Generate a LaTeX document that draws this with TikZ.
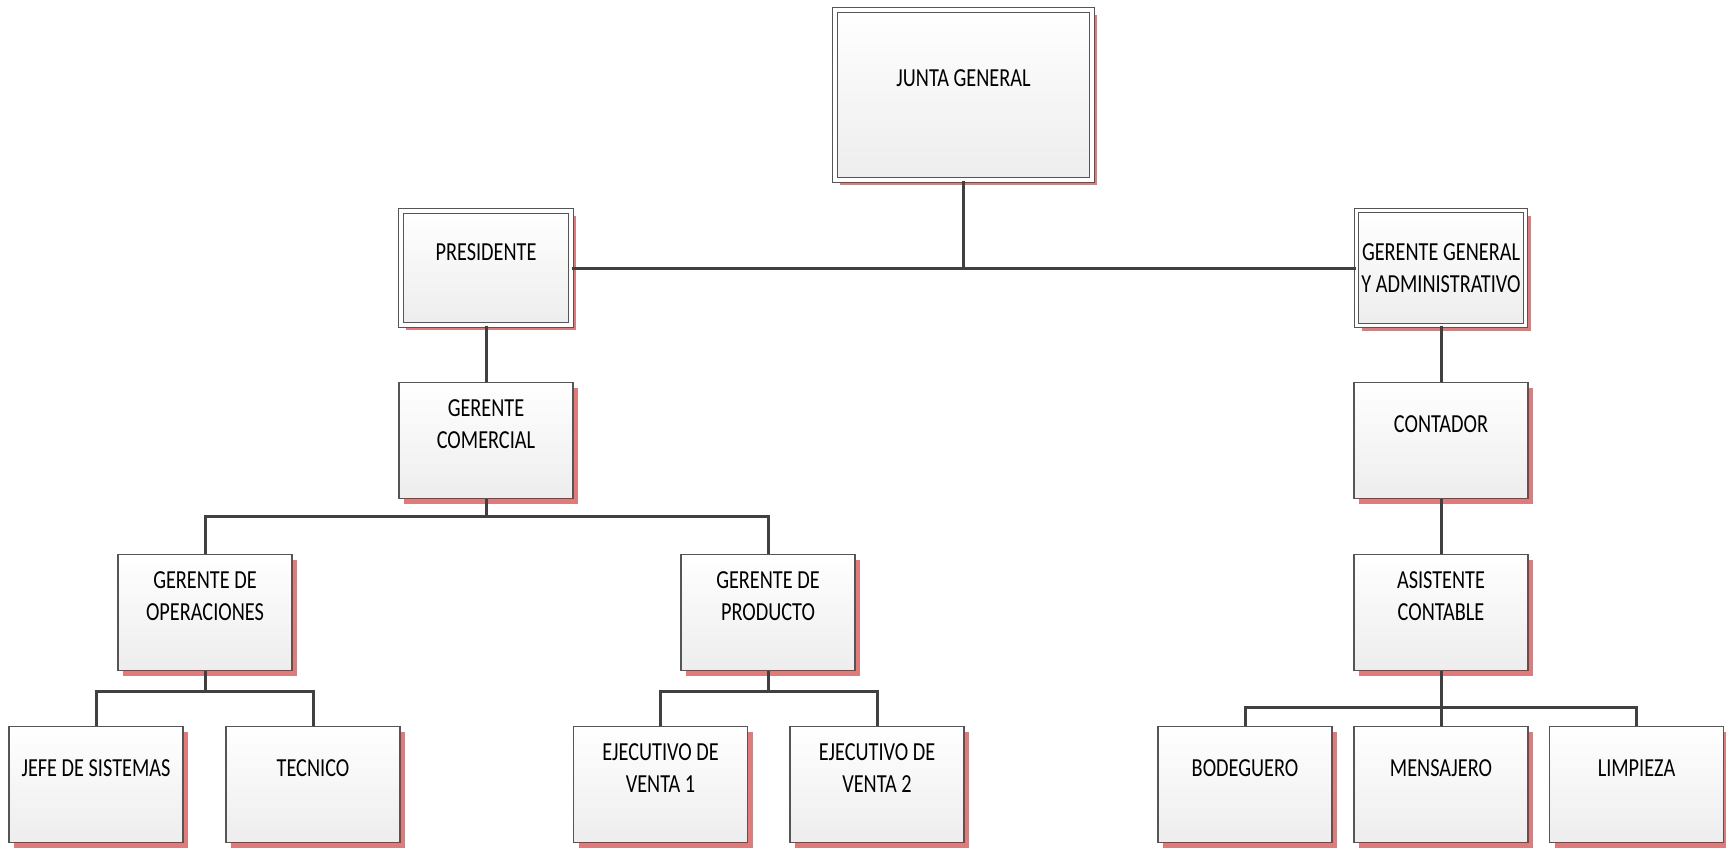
\documentclass[tikz,border=0pt]{standalone}
\usepackage{fontspec}
\setmainfont[FakeStretch=0.78]{Carlito}
\usetikzlibrary{shadows}
\definecolor{shad}{HTML}{E07B7B}
\definecolor{bord}{HTML}{555555}
\definecolor{connc}{HTML}{404040}
\definecolor{botfill}{HTML}{EDEDED}
\tikzset{
  box/.style={draw=bord, line width=1.2pt, top color=white, bottom color=botfill,
    minimum width=174pt, minimum height=116pt, inner sep=0pt,
    general shadow={shadow xshift=5pt, shadow yshift=-5pt, fill=shad}},
  dbox/.style={box, double=white, double distance=3.5pt, line width=1.2pt},
  txt/.style={font=\fontsize{26pt}{32pt}\selectfont, align=center, inner sep=0pt, text=black},
  conn/.style={draw=connc, line width=3pt},
}
\begin{document}
\begin{tikzpicture}[x=1pt, y=-1pt]
\useasboundingbox (0,0) rectangle (1726,847);
% top
\node[dbox, minimum width=257pt, minimum height=170pt] (junta) at (963.5,95) {};
\node[txt] (tjunta) at ([yshift=17pt]junta.center) {JUNTA GENERAL};
\node[dbox, minimum width=170pt, minimum height=114pt] (pres) at (486,268) {};
\node[txt] (tpres) at ([yshift=16pt]pres.center) {PRESIDENTE};
\node[dbox, minimum width=169pt, minimum height=115pt] (gg) at (1441,268) {};
\node[txt] (tgg) at (gg.center) {GERENTE GENERAL\\Y ADMINISTRATIVO};
% second level
\node[box] (gc) at (486,440.5) {};
\node[txt] (tgc) at ([yshift=16pt]gc.center) {GERENTE\\COMERCIAL};
\node[box] (cont) at (1441,440.5) {};
\node[txt] (tcont) at ([yshift=16pt]cont.center) {CONTADOR};
% third level
\node[box] (gdo) at (205,612.5) {};
\node[txt] (tgdo) at ([yshift=16pt]gdo.center) {GERENTE DE\\OPERACIONES};
\node[box] (gdp) at (768,612.5) {};
\node[txt] (tgdp) at ([yshift=16pt]gdp.center) {GERENTE DE\\PRODUCTO};
\node[box] (asis) at (1441,612.5) {};
\node[txt] (tasis) at ([yshift=16pt]asis.center) {ASISTENTE\\CONTABLE};
% bottom row
\node[box] (jefe) at (96,784.5) {};
\node[txt] (tjefe) at ([yshift=16pt]jefe.center) {JEFE DE SISTEMAS};
\node[box] (tec) at (313,784.5) {};
\node[txt] (ttec) at ([yshift=16pt]tec.center) {TECNICO};
\node[box] (ej1) at (660.5,784.5) {};
\node[txt] (tej1) at ([yshift=16pt]ej1.center) {EJECUTIVO DE\\VENTA 1};
\node[box] (ej2) at (877,784.5) {};
\node[txt] (tej2) at ([yshift=16pt]ej2.center) {EJECUTIVO DE\\VENTA 2};
\node[box] (bod) at (1245,784.5) {};
\node[txt] (tbod) at ([yshift=16pt]bod.center) {BODEGUERO};
\node[box] (mens) at (1441,784.5) {};
\node[txt] (tmens) at ([yshift=16pt]mens.center) {MENSAJERO};
\node[box] (limp) at (1636.5,784.5) {};
\node[txt] (tlimp) at ([yshift=16pt]limp.center) {LIMPIEZA};
% connectors
\coordinate (cj) at (963.5,268);
\coordinate (cgc) at (486,516);
\coordinate (cgdo) at (205,691);
\coordinate (cgdp) at (768,691);
\coordinate (casis) at (1441,707);
\draw[conn] (pres.east) -- (gg.west);
\draw[conn] (junta.south) -- (cj);
\draw[conn] (pres.south) -- (gc.north);
\draw[conn] (gc.south) -- (cgc);
\draw[conn] (gdo.north) |- (cgc) -| (gdp.north);
\draw[conn] (gdo.south) -- (cgdo);
\draw[conn] (jefe.north) |- (cgdo) -| (tec.north);
\draw[conn] (gdp.south) -- (cgdp);
\draw[conn] (ej1.north) |- (cgdp) -| (ej2.north);
\draw[conn] (gg.south) -- (cont.north);
\draw[conn] (cont.south) -- (asis.north);
\draw[conn] (asis.south) -- (casis);
\draw[conn] (bod.north) |- (casis) -| (limp.north);
\draw[conn] (casis) -- (mens.north);
\end{tikzpicture}
\end{document}
